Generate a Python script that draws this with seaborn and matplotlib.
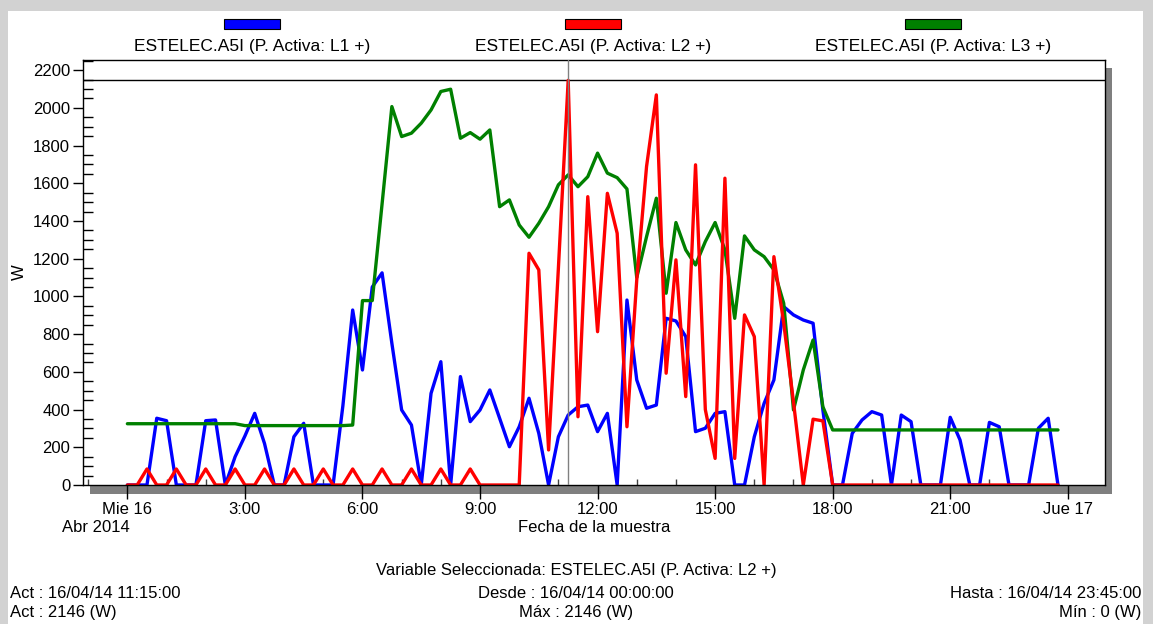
import numpy as np
import pandas as pd
import matplotlib
matplotlib.use("Agg")
import matplotlib.pyplot as plt
import seaborn as sns
from matplotlib.patches import Rectangle
from matplotlib.ticker import MultipleLocator

# 15-minute samples, 00:00 .. 23:45 (hours)
hours = np.arange(96) * 0.25

l1 = [0, 0, 0, 354, 341, 0, 0, 0,
      341, 345, 0, 150, 260, 380, 220, 0,
      0, 256, 327, 0, 0, 0, 420, 928,
      610, 1050, 1125, 752, 398, 318, 0, 486,
      654, 0, 575, 336, 398, 504, 354, 203,
      309, 460, 274, 0, 256, 371, 415, 424,
      283, 380, 0, 981, 557, 407, 424, 884,
      870, 787, 283, 301, 380, 389, 0, 0,
      256, 433, 557, 946, 902, 875, 858, 398,
      0, 0, 274, 345, 389, 371, 0, 371,
      336, 0, 0, 0, 359, 239, 0, 0,
      332, 309, 0, 0, 0, 301, 354, 0]

l2 = [0, 0, 85, 0, 0, 85, 0, 0,
      85, 0, 0, 85, 0, 0, 85, 0,
      0, 85, 0, 0, 85, 0, 0, 85,
      0, 0, 85, 0, 0, 85, 0, 0,
      85, 0, 0, 85, 0, 0, 0, 0,
      0, 1229, 1141, 186, 1150, 2146, 362, 1529,
      813, 1547, 1335, 309, 1088, 1689, 2069, 593,
      1194, 469, 1698, 400, 141, 1627, 141, 902,
      787, 0, 1211, 860, 440, 0, 349, 340,
      0, 0, 0, 0, 0, 0, 0, 0,
      0, 0, 0, 0, 0, 0, 0, 0,
      0, 0, 0, 0, 0, 0, 0, 0]

l3 = [325, 325, 325, 325, 325, 325, 325, 325,
      325, 325, 325, 325, 315, 315, 315, 315,
      315, 315, 315, 315, 315, 315, 315, 318,
      978, 978, 1490, 2007, 1848, 1866, 1919, 1989,
      2087, 2099, 1839, 1869, 1834, 1883, 1476, 1512,
      1379, 1314, 1388, 1476, 1592, 1645, 1582, 1635,
      1760, 1654, 1630, 1570, 1100, 1317, 1521, 1017,
      1392, 1247, 1167, 1291, 1392, 1247, 884, 1321,
      1247, 1211, 1141, 964, 398, 610, 769, 415,
      292, 292, 292, 292, 292, 292, 292, 292,
      292, 292, 292, 292, 292, 292, 292, 292,
      292, 292, 292, 292, 292, 292, 292, 292]

series_names = ["ESTELEC.A5I (P. Activa: L1 +)",
                "ESTELEC.A5I (P. Activa: L2 +)",
                "ESTELEC.A5I (P. Activa: L3 +)"]
series_colors = ["#0000ff", "#ff0000", "#008000"]

xtick_pos = [0, 3, 6, 9, 12, 15, 18, 21, 24]
xtick_labels = ["Mie 16", "3:00", "6:00", "9:00", "12:00", "15:00", "18:00", "21:00", "Jue 17"]
ytick_vals = list(range(0, 2201, 200))
max_value = 2146
cursor_hour = 11.25

df = pd.concat([
    pd.DataFrame({"hour": hours, "W": vals, "serie": name})
    for name, vals in zip(series_names, [l1, l2, l3])
], ignore_index=True)

sns.set_theme(style="white")
plt.rcParams["font.family"] = ["Liberation Sans", "DejaVu Sans"]

W, H = 1153, 624
fig = plt.figure(figsize=(W / 100, H / 100), dpi=100)
fig.patch.set_facecolor("#d2d2d2")


def fx(px):
    return px / W


def fy(py):
    return 1 - py / H


# white panel and drop shadow of the plot frame
fig.patches.append(Rectangle((fx(8), 0), fx(1143) - fx(8), fy(11), transform=fig.transFigure,
                             facecolor="white", edgecolor="none", zorder=-3))
fig.patches.append(Rectangle((fx(90), fy(494)), fx(1112) - fx(90), fy(68) - fy(494),
                             transform=fig.transFigure, facecolor="#7f7f7f", edgecolor="none", zorder=-2))

ax = fig.add_axes([fx(82.7), fy(485), fx(1105) - fx(82.7), fy(60) - fy(485)])
ax.set_facecolor("white")

sns.lineplot(data=df, x="hour", y="W", hue="serie",
             hue_order=[series_names[0], series_names[2], series_names[1]],
             palette=dict(zip(series_names, series_colors)),
             linewidth=2.4, legend=False, errorbar=None, sort=False, ax=ax)

ax.axhline(max_value, color="black", lw=1.0, zorder=1)
ax.axvline(cursor_hour, color="#808080", lw=1.0, zorder=5)

ax.set_xlim(-1.14, 24.95)
ax.set_ylim(0, 2254)

ax.set_xticks(xtick_pos)
ax.set_xticklabels(xtick_labels)
ax.xaxis.set_minor_locator(MultipleLocator(1))
ax.set_yticks(ytick_vals)
ax.yaxis.set_minor_locator(MultipleLocator(50))

ax.tick_params(axis="x", which="major", direction="out", length=10, width=1, color="black",
               pad=2, labelsize=12, labelcolor="black", bottom=True)
ax.tick_params(axis="x", which="minor", direction="in", length=4, width=1, color="#404040", bottom=True)
ax.tick_params(axis="y", which="major", direction="out", length=7, width=1, color="black",
               pad=2, labelsize=12, labelcolor="black", left=True)
ax.tick_params(axis="y", which="minor", direction="in", length=7, width=1, color="black", left=True)

for s in ax.spines.values():
    s.set_color("black")
    s.set_linewidth(1.0)

ax.set_xlabel("Fecha de la muestra", fontsize=12, color="black")
ax.xaxis.set_label_coords(0.5, (485 - 527) / 425)
ax.xaxis.label.set_va("center")
ax.set_ylabel("W", fontsize=12, color="black")
ax.yaxis.set_label_coords((19 - 82.7) / 1022.3, 0.5)
ax.yaxis.label.set_va("center")

fig.text(fx(62), fy(527), "Abr 2014", ha="left", va="center", fontsize=12, color="black")

# legend on top
legend_cx = [252, 593, 933]
for cx, name, col in zip(legend_cx, series_names, series_colors):
    fig.patches.append(Rectangle((fx(cx - 28), fy(29)), fx(56), fy(19) - fy(29), transform=fig.transFigure,
                                 facecolor=col, edgecolor="black", lw=0.8, zorder=2))
    fig.text(fx(cx), fy(46), name, ha="center", va="center", fontsize=12.5, color="black")

# bottom information
fig.text(fx(576), fy(571), "Variable Seleccionada: ESTELEC.A5I (P. Activa: L2 +)",
         ha="center", va="center", fontsize=12, color="black")
fig.text(fx(10), fy(593), "Act : 16/04/14 11:15:00", ha="left", va="center", fontsize=12, color="black")
fig.text(fx(576), fy(593), "Desde : 16/04/14 00:00:00", ha="center", va="center", fontsize=12, color="black")
fig.text(fx(1141), fy(593), "Hasta : 16/04/14 23:45:00", ha="right", va="center", fontsize=12, color="black")
fig.text(fx(10), fy(613), "Act : 2146 (W)", ha="left", va="center", fontsize=12, color="black")
fig.text(fx(576), fy(613), "Máx : 2146 (W)", ha="center", va="center", fontsize=12, color="black")
fig.text(fx(1141), fy(613), "Mín : 0 (W)", ha="right", va="center", fontsize=12, color="black")

fig.savefig("out.png", dpi=100, facecolor=fig.get_facecolor())
